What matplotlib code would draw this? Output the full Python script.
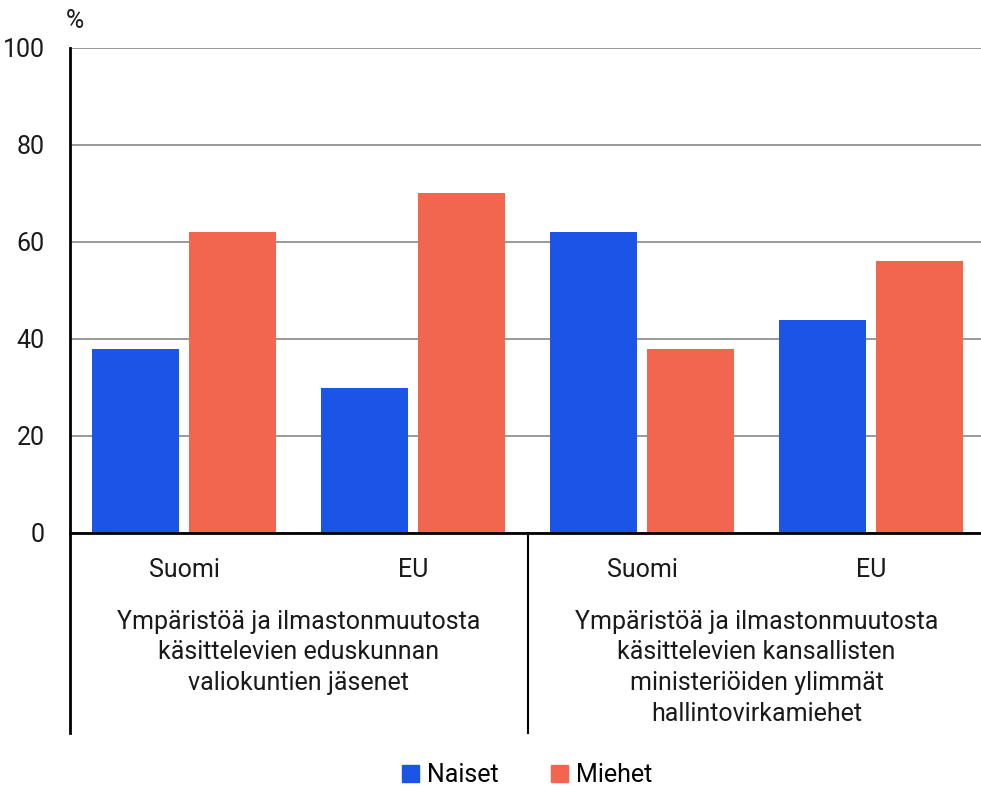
import matplotlib
matplotlib.use("Agg")
import matplotlib.pyplot as plt
from matplotlib.patches import Patch
import numpy as np

plt.rcParams['font.family'] = ['Roboto', 'DejaVu Sans']

categories = ["Suomi", "EU", "Suomi", "EU"]
naiset = [38, 30, 62, 44]
miehet = [62, 70, 38, 56]
groups = ["Ympäristöä ja ilmastonmuutosta\nkäsittelevien eduskunnan\nvaliokuntien jäsenet",
          "Ympäristöä ja ilmastonmuutosta\nkäsittelevien kansallisten\nministeriöiden ylimmät\nhallintovirkamiehet"]
yticks = [0, 20, 40, 60, 80, 100]

blue = "#1B55E8"
red = "#F2664F"
txt = '#1a1a1a'

fig = plt.figure(figsize=(9.81, 7.87), dpi=100)
ax = fig.add_axes([69.5/981, 1-533/787, 916/981, 485/787])

x = np.arange(len(categories))
w = 0.38
ax.bar(x - 0.213, naiset, w, color=blue)
ax.bar(x + 0.213, miehet, w, color=red)

ax.set_xlim(-0.5, 3.5)
ax.set_ylim(0, 100)
ax.set_yticks(yticks)
ax.set_yticklabels([str(t) for t in yticks], fontsize=18, color=txt)
ax.set_xticks([])
ax.tick_params(axis='y', length=0, pad=18)
ax.grid(axis='y', color='#888888', linewidth=1.2)
ax.set_axisbelow(True)
for s in ['top', 'right']:
    ax.spines[s].set_visible(False)
ax.spines['left'].set_linewidth(2)
ax.spines['bottom'].set_linewidth(2)

# category labels below axis
for xi, c in zip(x, categories):
    ax.text(xi, -7.6, c, ha='center', va='center', fontsize=18, color=txt)

ax.text(0.5, -15.8, groups[0], ha='center', va='top', fontsize=18, color=txt,
        linespacing=1.36)
ax.text(2.5, -15.8, groups[1], ha='center', va='top', fontsize=18, color=txt,
        linespacing=1.36)

# left axis extension and group separator
ax.plot([-0.5, -0.5], [0, -41.2], color='black', lw=2, clip_on=False)
ax.plot([1.5, 1.5], [0, -41.2], color='black', lw=1.5, clip_on=False)

fig.text(75/981, 1-21/787, "%", ha='center', va='center', fontsize=18, color=txt)

handles = [Patch(color=blue, label="Naiset"), Patch(color=red, label="Miehet")]
fig.legend(handles=handles, loc='center', bbox_to_anchor=(527/981, 1-775/787), ncol=2,
           frameon=False, fontsize=18, handlelength=0.7, handleheight=0.7,
           handletextpad=0.3, columnspacing=2.1)

fig.savefig("out.png", dpi=100)
